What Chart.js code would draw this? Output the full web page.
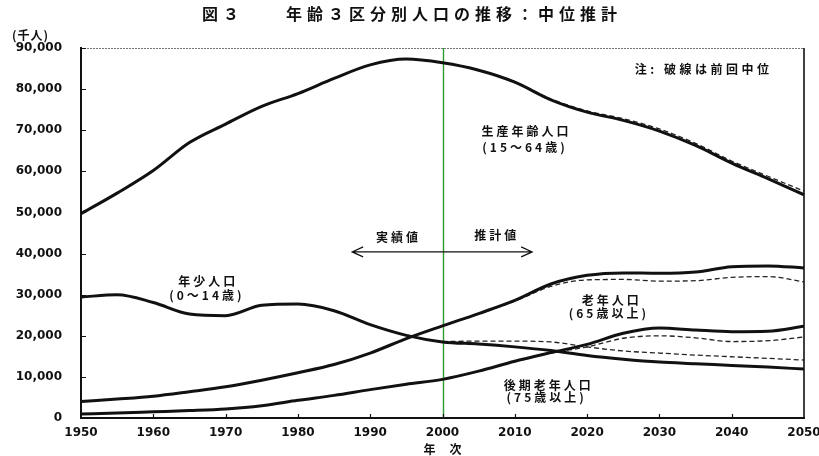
<!DOCTYPE html>
<html lang="ja">
<head>
<meta charset="utf-8">
<title>年齢3区分別人口の推移</title>
<script src="https://cdn.jsdelivr.net/npm/chart.js@4.4.1/dist/chart.umd.min.js"></script>
<style>
  html, body { margin: 0; padding: 0; background: #fff; }
  #wrap { width: 819px; height: 456px; position: relative; }
</style>
</head>
<body>
<div id="wrap"><canvas id="chart" width="819" height="456"></canvas></div>
<script>
// ── data (千人) ────────────────────────────────────────────────────────────
const years     = [1950, 1955, 1960, 1965, 1970, 1975, 1980, 1985, 1990, 1995, 2000,
                   2005, 2010, 2015, 2020, 2025, 2030, 2035, 2040, 2045, 2050];
const projYears = [2000, 2005, 2010, 2015, 2020, 2025, 2030, 2035, 2040, 2045, 2050];

const working = [49700, 54700, 60200, 67000, 71500, 75800, 78900, 82600, 85900, 87300, 86400,
                 84600, 81700, 77400, 74400, 72400, 69800, 66300, 62000, 58200, 54300];
const youth   = [29400, 30000, 28100, 25300, 24900, 27400, 27700, 26100, 22700, 20100, 18500,
                 18000, 17300, 16400, 15200, 14300, 13600, 13200, 12800, 12400, 11900];
const elderly = [4000, 4600, 5300, 6400, 7600, 9200, 11000, 13000, 15800, 19300, 22400,
                 25400, 28600, 32600, 34700, 35300, 35200, 35500, 36800, 37000, 36500];
const old75   = [1000, 1200, 1500, 1800, 2200, 3000, 4300, 5500, 6900, 8200, 9400,
                 11400, 13800, 15900, 17900, 20600, 21900, 21400, 21000, 21100, 22300];

// 前回推計 (破線)
const workingPrev = [86400, 84700, 81800, 77600, 74700, 72800, 70300, 66800, 62500, 58800, 55200];
const youthPrev   = [18600, 18700, 18700, 18500, 17300, 16300, 15800, 15300, 14900, 14500, 14100];
const elderlyPrev = [22400, 25300, 28400, 32000, 33600, 33700, 33300, 33400, 34200, 34400, 33100];
const old75Prev   = [9400, 11400, 13700, 15800, 17300, 19400, 20000, 19500, 18600, 18800, 19700];

const yTicks = [0, 10000, 20000, 30000, 40000, 50000, 60000, 70000, 80000, 90000];
const xTicks = [1950, 1960, 1970, 1980, 1990, 2000, 2010, 2020, 2030, 2040, 2050];

// ── labels drawn over the plot, placed in data units ────────────────────────
const notes = [
  { text: '生産年齢人口',   x: 2011.4, y: 69800 },
  { text: '(15～64歳)',     x: 2011.2, y: 65700 },
  { text: '年少人口',       x: 1967.4, y: 33100 },
  { text: '(0～14歳)',      x: 1967.2, y: 29900 },
  { text: '老年人口',       x: 2023.2, y: 28700 },
  { text: '(65歳以上)',     x: 2022.8, y: 25500 },
  { text: '後期老年人口',   x: 2014.5, y: 7800 },
  { text: '(75歳以上)',     x: 2014.2, y: 4900 },
  { text: '実績値',         x: 1993.7, y: 44000 },
  { text: '推計値',         x: 2007.3, y: 44400 },
];
const noteRight = { text: '注: 破線は前回中位', x: 2026.6, y: 84900 };
const splitYear = 2000;
const arrow = { from: 1987.5, to: 2012.4, y: 40400 };

const JP = '"Noto Sans CJK JP", "Noto Sans", sans-serif';
const NUM = '"DejaVu Sans", sans-serif';

function pts(xs, ys) {
  return xs.map((x, i) => ({ x, y: ys[i] }));
}

function solid(label, xs, ys) {
  return {
    label, data: pts(xs, ys), order: 0,
    borderColor: '#111', borderWidth: 3,
    pointRadius: 0, cubicInterpolationMode: 'monotone', fill: false,
  };
}

function dashed(label, xs, ys) {
  return {
    label, data: pts(xs, ys), order: 1,
    borderColor: '#222', borderWidth: 1.3, borderDash: [5, 3],
    pointRadius: 0, cubicInterpolationMode: 'monotone', fill: false,
  };
}

function drawText(ctx, text, x, y, font, spacing, align) {
  ctx.save();
  ctx.font = font;
  ctx.fillStyle = '#111';
  ctx.textBaseline = 'middle';
  ctx.letterSpacing = spacing + 'px';
  const w = ctx.measureText(text).width;
  let left = x;
  if (align === 'center') left = x - (w - spacing) / 2;
  ctx.textAlign = 'left';
  ctx.fillText(text, left, y);
  ctx.restore();
}

const overlay = {
  id: 'overlay',
  beforeDatasetsDraw(chart) {
    const { ctx, chartArea: a, scales: { x } } = chart;
    const px = Math.round(x.getPixelForValue(splitYear)) + 0.5;
    ctx.save();
    ctx.strokeStyle = '#2f9a2f';
    ctx.lineWidth = 1.4;
    ctx.beginPath();
    ctx.moveTo(px, a.top);
    ctx.lineTo(px, a.bottom);
    ctx.stroke();
    ctx.restore();
  },
  afterDraw(chart) {
    const { ctx, chartArea: a, scales: { x, y } } = chart;

    // frame: dotted top, solid right
    ctx.save();
    ctx.strokeStyle = '#777';
    ctx.lineWidth = 1;
    ctx.setLineDash([2, 1]);
    ctx.beginPath();
    ctx.moveTo(a.left, a.top + 0.5);
    ctx.lineTo(a.right, a.top + 0.5);
    ctx.stroke();
    ctx.setLineDash([]);
    ctx.strokeStyle = '#111';
    ctx.lineWidth = 1.6;
    ctx.beginPath();
    ctx.moveTo(a.right, a.top);
    ctx.lineTo(a.right, a.bottom);
    ctx.stroke();

    // inside tick marks
    ctx.lineWidth = 1.2;
    ctx.beginPath();
    yTicks.forEach(v => {
      if (v === 0) return;
      const py = Math.round(y.getPixelForValue(v)) + 0.5;
      ctx.moveTo(a.left, py);
      ctx.lineTo(a.left + 5, py);
    });
    xTicks.forEach(v => {
      if (v === xTicks[0] || v === xTicks[xTicks.length - 1]) return;
      const pxx = Math.round(x.getPixelForValue(v)) + 0.5;
      ctx.moveTo(pxx, a.bottom);
      ctx.lineTo(pxx, a.bottom - 4);
    });
    ctx.stroke();

    // double arrow between 実績値 and 推計値
    const ax1 = x.getPixelForValue(arrow.from);
    const ax2 = x.getPixelForValue(arrow.to);
    const ay = y.getPixelForValue(arrow.y);
    ctx.lineWidth = 1.2;
    ctx.beginPath();
    ctx.moveTo(ax1, ay);
    ctx.lineTo(ax2, ay);
    ctx.moveTo(ax1 + 11, ay - 5);
    ctx.lineTo(ax1, ay);
    ctx.lineTo(ax1 + 11, ay + 5);
    ctx.moveTo(ax2 - 11, ay - 5);
    ctx.lineTo(ax2, ay);
    ctx.lineTo(ax2 - 11, ay + 5);
    ctx.stroke();
    ctx.restore();

    // texts
    notes.forEach(n => {
      drawText(ctx, n.text, x.getPixelForValue(n.x), y.getPixelForValue(n.y),
               'bold 12px ' + JP, 3, 'center');
    });
    drawText(ctx, noteRight.text, x.getPixelForValue(noteRight.x), y.getPixelForValue(noteRight.y),
             'bold 12px ' + JP, 3.5, 'left');

    drawText(ctx, '図３　　年齢３区分別人口の推移：中位推計', chart.width / 2, 14,
             'bold 16px ' + JP, 5, 'center');
    drawText(ctx, '(千人)', 12, 35, 'bold 12px ' + JP, 1, 'left');
    drawText(ctx, '年　次', x.getPixelForValue(splitYear), 449, 'bold 12px ' + JP, 1, 'center');
  },
};

new Chart(document.getElementById('chart'), {
  type: 'line',
  data: {
    datasets: [
      solid('生産年齢人口', years, working),
      solid('年少人口', years, youth),
      solid('老年人口', years, elderly),
      solid('後期老年人口', years, old75),
      dashed('生産年齢人口(前回)', projYears, workingPrev),
      dashed('年少人口(前回)', projYears, youthPrev),
      dashed('老年人口(前回)', projYears, elderlyPrev),
      dashed('後期老年人口(前回)', projYears, old75Prev),
    ],
  },
  options: {
    responsive: false,
    animation: false,
    devicePixelRatio: 1,
    layout: { padding: { top: 48, right: 15, bottom: 0, left: 0 } },
    plugins: {
      legend: { display: false },
      title: { display: false },
      tooltip: { enabled: false },
    },
    scales: {
      x: {
        type: 'linear',
        min: 1950, max: 2050,
        afterFit: (s) => { s.height = 38; s.paddingLeft = 0; s.paddingRight = 0; },
        afterBuildTicks: (s) => { s.ticks = xTicks.map(v => ({ value: v })); },
        ticks: {
          color: '#111', padding: 8, maxRotation: 0, autoSkip: false,
          font: { family: NUM, size: 12, weight: 'bold' },
          callback: (v) => String(v),
        },
        grid: { display: false, drawTicks: false },
        border: { display: true, color: '#111', width: 2 },
      },
      y: {
        min: 0, max: 90000,
        afterFit: (s) => { s.width = 81; s.paddingTop = 0; s.paddingBottom = 0; },
        afterBuildTicks: (s) => { s.ticks = yTicks.map(v => ({ value: v })); },
        ticks: {
          color: '#111', padding: 19,
          font: { family: NUM, size: 12, weight: 'bold' },
          callback: (v) => v.toLocaleString('en-US'),
        },
        grid: { display: false, drawTicks: false },
        border: { display: true, color: '#111', width: 2 },
      },
    },
  },
  plugins: [overlay],
});
</script>
</body>
</html>
